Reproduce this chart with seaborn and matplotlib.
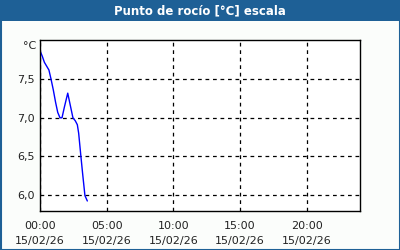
import matplotlib
matplotlib.use("Agg")
import matplotlib.pyplot as plt
import seaborn as sns
import pandas as pd
import numpy as np
from matplotlib.patches import Rectangle
from matplotlib.ticker import MultipleLocator, FixedLocator

# ---- data ----
times_h = [0.0, 0.17, 0.33, 0.5, 0.67, 0.83, 1.0, 1.17, 1.33, 1.5, 1.65,
           1.83, 2.08, 2.25, 2.47, 2.65, 2.8, 2.9, 3.05, 3.2, 3.37, 3.55]
dew_point = [7.87, 7.80, 7.72, 7.67, 7.62, 7.50, 7.36, 7.20, 7.07, 7.00, 7.00,
             7.14, 7.32, 7.18, 7.00, 6.96, 6.91, 6.80, 6.53, 6.27, 5.99, 5.92]
xtick_hours = [0, 5, 10, 15, 20]
xtick_labels = ["00:00\n15/02/26", "05:00\n15/02/26", "10:00\n15/02/26",
                "15:00\n15/02/26", "20:00\n15/02/26"]
ytick_vals = [6.0, 6.5, 7.0, 7.5]
ytick_labels = ["6,0", "6,5", "7,0", "7,5"]
title = "Punto de rocío [°C] escala"

df = pd.DataFrame({"h": times_h, "v": dew_point})

sns.set_style("white")
plt.rcParams['font.family'] = ['DejaVu Sans']

W, H = 400, 250
fig = plt.figure(figsize=(W / 100, H / 100), dpi=100)
fig.patch.set_facecolor("#fbfdfb")

ax = fig.add_axes([40 / W, 1 - 211 / H, 320 / W, 171 / H])
ax.set_facecolor("white")
sns.lineplot(data=df, x="h", y="v", ax=ax, color="#0000ff", linewidth=1.0)

ax.set_xlim(0, 24)
ax.set_ylim(5.79, 8.01)
ax.set_xticks(xtick_hours)
ax.set_xticklabels(xtick_labels)
ax.xaxis.set_minor_locator(MultipleLocator(1))
ax.set_yticks(ytick_vals)
ax.set_yticklabels(ytick_labels)
ax.set_xlabel("")
ax.set_ylabel("")
ax.grid(True, which="major", color="black", linestyle=(0, (3, 3)), linewidth=0.9)
for s in ax.spines.values():
    s.set_color("black")
    s.set_linewidth(1.0)
ax.tick_params(axis="x", which="major", direction="out", length=5, width=1,
               color="black", labelsize=8, pad=2)
ax.tick_params(axis="x", which="minor", direction="out", length=3, width=1,
               color="black")
ax.tick_params(axis="y", which="major", length=0, labelsize=8, pad=4)
ax.tick_params(axis="y", which="minor", length=0)
for lbl in ax.get_xticklabels():
    lbl.set_linespacing(1.6)
    lbl.set_color("#222222")
for lbl in ax.get_yticklabels():
    lbl.set_color("#222222")

fig.text(36 / W, 1 - 46 / H, "°C", ha="right", va="center", fontsize=8,
         color="#222222")

# title bar
fig.patches.append(Rectangle((0, 1 - 21 / H), 1, 21 / H, transform=fig.transFigure,
                             facecolor="#1e6096", edgecolor="none", zorder=0))
fig.text(0.5, 1 - 10.5 / H, title, ha="center", va="center", color="white",
         fontsize=8.5, fontweight="bold")
# border
fig.patches.append(Rectangle((0.5 / W, 0.5 / H), 1 - 1 / W, 1 - 1 / H,
                             transform=fig.transFigure, facecolor="none",
                             edgecolor="#1e6096", linewidth=1.5, zorder=5))

fig.savefig("out.png", dpi=100, facecolor=fig.get_facecolor())
